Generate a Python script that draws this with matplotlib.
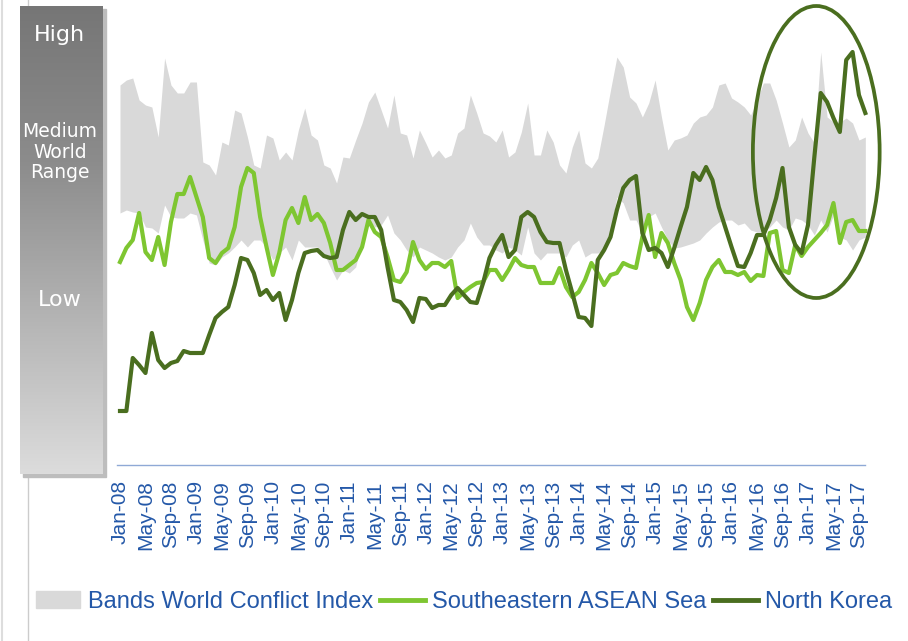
import numpy as np
import pandas as pd
import matplotlib
matplotlib.use('Agg')
import matplotlib.pyplot as plt
from matplotlib.patches import Ellipse, Rectangle, Patch
from matplotlib.lines import Line2D
from matplotlib.colors import LinearSegmentedColormap

# monthly series, Jan-08 .. Oct-17 (index scale, higher = more conflict)
band_high = [38.0, 38.5, 38.7, 36.5, 36.0, 35.8, 32.8, 40.7, 38.0, 37.2,
             37.2, 38.3, 38.3, 30.3, 30.0, 29.0, 32.3, 32.0, 35.5, 35.2,
             32.8, 30.0, 29.7, 33.0, 32.7, 30.5, 31.3, 30.5, 33.5, 35.7,
             33.0, 32.5, 30.0, 29.7, 28.2, 30.8, 30.7, 32.5, 34.2, 36.3,
             37.3, 35.5, 33.7, 37.0, 33.2, 33.0, 30.7, 33.5, 32.2, 30.8,
             31.5, 30.7, 31.0, 33.2, 33.7, 37.0, 35.2, 33.2, 32.9, 32.3,
             33.5, 30.8, 31.3, 33.3, 36.2, 31.0, 31.0, 33.5, 32.3, 30.0,
             29.2, 31.8, 33.5, 30.2, 29.7, 30.7, 34.0, 37.5, 40.8, 39.8,
             36.8, 36.2, 34.8, 36.2, 38.5, 34.8, 31.5, 32.5, 32.7, 33.0,
             34.2, 34.8, 35.0, 35.8, 38.0, 38.2, 36.7, 36.3, 35.8, 35.0,
             36.5, 38.2, 38.2, 36.5, 34.2, 31.8, 32.5, 34.8, 33.2, 32.2,
             41.3, 34.8, 34.3, 34.3, 34.7, 34.2, 32.5, 32.8]

band_low = [25.2, 25.5, 25.3, 25.2, 23.8, 23.7, 23.2, 26.0, 24.8, 24.7,
            24.7, 25.2, 25.0, 22.5, 20.2, 20.0, 20.8, 21.2, 21.8, 22.5,
            21.8, 22.5, 22.5, 21.8, 20.5, 21.2, 21.8, 20.5, 22.5, 21.8,
            21.8, 21.8, 21.2, 19.8, 18.5, 19.5, 19.2, 19.8, 22.5, 24.5,
            23.8, 24.0, 25.0, 23.2, 22.5, 21.5, 20.8, 21.8, 21.5, 21.2,
            20.8, 20.5, 20.8, 21.8, 22.5, 24.2, 22.8, 22.0, 22.0, 21.5,
            21.2, 21.8, 21.5, 21.0, 23.8, 21.2, 20.5, 21.2, 21.2, 21.2,
            20.8, 22.0, 22.5, 20.8, 21.2, 21.2, 21.5, 23.5, 26.8, 26.2,
            24.5, 24.5, 23.2, 24.8, 25.2, 23.8, 22.5, 21.7, 21.8, 22.0,
            22.2, 22.5, 23.2, 23.8, 24.3, 24.5, 24.5, 24.0, 24.2, 23.5,
            23.3, 23.3, 23.8, 24.5, 23.8, 23.5, 24.7, 24.5, 24.0, 23.0,
            24.5, 23.3, 25.0, 22.8, 22.5, 21.5, 22.5, 22.8]

asean = [20.3, 21.7, 22.5, 25.2, 21.3, 20.5, 22.8, 20.0, 24.3, 27.1,
         27.1, 28.8, 26.8, 24.8, 20.7, 20.2, 21.2, 21.7, 23.8, 27.8,
         29.7, 29.2, 24.8, 21.8, 19.0, 21.2, 24.5, 25.7, 24.2, 26.8,
         24.5, 25.1, 24.2, 22.2, 19.5, 19.5, 20.0, 20.5, 21.8, 24.5,
         23.3, 22.8, 20.8, 18.5, 18.3, 19.3, 22.3, 20.5, 19.6, 20.2,
         20.2, 19.8, 20.4, 16.7, 17.3, 17.8, 18.2, 18.3, 19.5, 19.5,
         18.5, 19.5, 20.7, 20.0, 19.8, 19.8, 18.2, 18.2, 18.2, 19.7,
         17.8, 16.8, 17.3, 18.5, 20.2, 19.2, 18.0, 19.0, 19.2, 20.2,
         19.9, 19.7, 22.8, 25.0, 20.8, 23.2, 22.2, 20.2, 18.5, 15.8,
         14.5, 16.2, 18.5, 19.8, 20.5, 19.3, 19.3, 19.0, 19.3, 18.4,
         19.0, 18.9, 23.2, 23.4, 19.5, 19.2, 22.0, 20.9, 21.8, 22.5,
         23.2, 24.0, 26.2, 22.2, 24.3, 24.5, 23.4, 23.4]

nkorea = [5.4, 5.4, 10.7, 10.0, 9.2, 13.2, 10.5, 9.7, 10.2, 10.4,
          11.4, 11.2, 11.2, 11.2, 13.0, 14.7, 15.3, 15.8, 18.0, 20.7,
          20.5, 19.2, 17.0, 17.5, 16.5, 17.2, 14.5, 16.5, 19.2, 21.2,
          21.4, 21.5, 20.9, 20.7, 20.8, 23.5, 25.3, 24.5, 25.1, 24.8,
          24.8, 23.5, 19.8, 16.5, 16.3, 15.5, 14.3, 16.7, 16.6, 15.7,
          16.0, 16.0, 17.0, 17.7, 17.0, 16.3, 16.2, 18.2, 20.7, 22.0,
          23.0, 20.8, 21.5, 24.8, 25.3, 24.8, 23.3, 22.3, 22.2, 22.2,
          19.5, 17.2, 14.8, 14.7, 13.9, 20.5, 21.5, 22.8, 25.5, 27.7,
          28.5, 28.9, 23.2, 21.5, 21.7, 21.2, 19.8, 21.7, 23.8, 25.8,
          29.2, 28.5, 29.8, 28.5, 25.8, 23.8, 21.8, 19.9, 19.8, 21.2,
          23.0, 23.0, 24.5, 26.7, 29.7, 23.8, 22.0, 21.2, 24.0, 30.8,
          37.2, 36.3, 34.7, 33.3, 40.5, 41.3, 37.0, 35.2]

months = pd.date_range('2008-01-01', periods=len(nkorea), freq='MS')
tick_labels = [d.strftime('%b-%y') for d in months]
x = np.arange(len(months))

light_green = '#7ec631'
dark_green = '#4a6e1f'
band_grey = '#d9d9d9'
blue = '#2458a8'

W, H = 908, 641
fig = plt.figure(figsize=(W / 100, H / 100), dpi=100)

# thin guide lines behind the scale box
fig.add_artist(Line2D([28 / W, 28 / W], [0, 1], color='#cccccc', lw=1, zorder=-3))
fig.add_artist(Line2D([1.5 / W, 1.5 / W], [0, 1], color='#dddddd', lw=1.5, zorder=-3))

# gradient scale box on the left
bx, by, bw, bh = 20, 6, 83, 468
fig.add_artist(Rectangle(((bx + 3) / W, 1 - (by + bh + 3) / H), bw / W, bh / H,
                         transform=fig.transFigure, color='#bdbdbd', zorder=-2))
box = fig.add_axes([bx / W, 1 - (by + bh) / H, bw / W, bh / H])
grad = np.linspace(0, 1, 256).reshape(-1, 1)
cmap = LinearSegmentedColormap.from_list('scale', ['#767676', '#8c8c8c', '#b4b4b4', '#dcdcdc'])
box.imshow(grad, aspect='auto', cmap=cmap, extent=[0, 1, 0, 1], origin='upper')
box.set_xlim(0, 1)
box.set_ylim(0, 1)
box.axis('off')
box.text(0.48, (by + bh - 35) / bh, 'High', color='white', fontsize=16,
         ha='center', va='center', transform=box.transAxes)
box.text(0.48, (by + bh - 152) / bh, 'Medium\nWorld\nRange', color='white', fontsize=13.5,
         ha='center', va='center', linespacing=1.1, transform=box.transAxes)
box.text(0.48, (by + bh - 300) / bh, 'Low', color='white', fontsize=16,
         ha='center', va='center', transform=box.transAxes)

# main chart
ax = fig.add_axes([117 / W, 1 - 465 / H, 748 / W, 460 / H])
ax.fill_between(x, band_low, band_high, color=band_grey, lw=0, zorder=1, clip_on=False)
ax.plot(x, asean, color=light_green, lw=3, zorder=2, solid_joinstyle='round', clip_on=False)
ax.plot(x, nkorea, color=dark_green, lw=3, zorder=3, solid_joinstyle='round', clip_on=False)

# highlight of the recent North Korea spike
ax.add_patch(Ellipse((109.3, 31.3), 19.9, 29.2, fill=False, ec=dark_green,
                     lw=2.7, clip_on=False, zorder=4))

ax.set_xlim(-0.47, 116.95)
ax.set_ylim(0, 46)
for side in ['top', 'right', 'left']:
    ax.spines[side].set_visible(False)
ax.spines['bottom'].set_color('#8fa9d6')
ax.spines['bottom'].set_linewidth(1)
ax.set_yticks([])
ax.set_xticks(x[::4])
ax.set_xticklabels(tick_labels[::4], rotation=90, fontsize=15, color=blue,
                   family='Liberation Sans')
ax.tick_params(axis='x', length=0, pad=11)

handles = [Patch(color=band_grey),
           Line2D([], [], color=light_green, lw=3.5),
           Line2D([], [], color=dark_green, lw=3.5)]
names = ['Bands World Conflict Index', 'Southeastern ASEAN Sea', 'North Korea']
fig.legend(handles, names, loc='center', bbox_to_anchor=(464 / W, 1 - 602 / H),
           ncol=3, frameon=False, handlelength=1.9, handletextpad=0.3,
           columnspacing=0.3, labelcolor=blue,
           prop={'family': 'Liberation Sans', 'size': 17})

fig.savefig('out.png', dpi=100)
